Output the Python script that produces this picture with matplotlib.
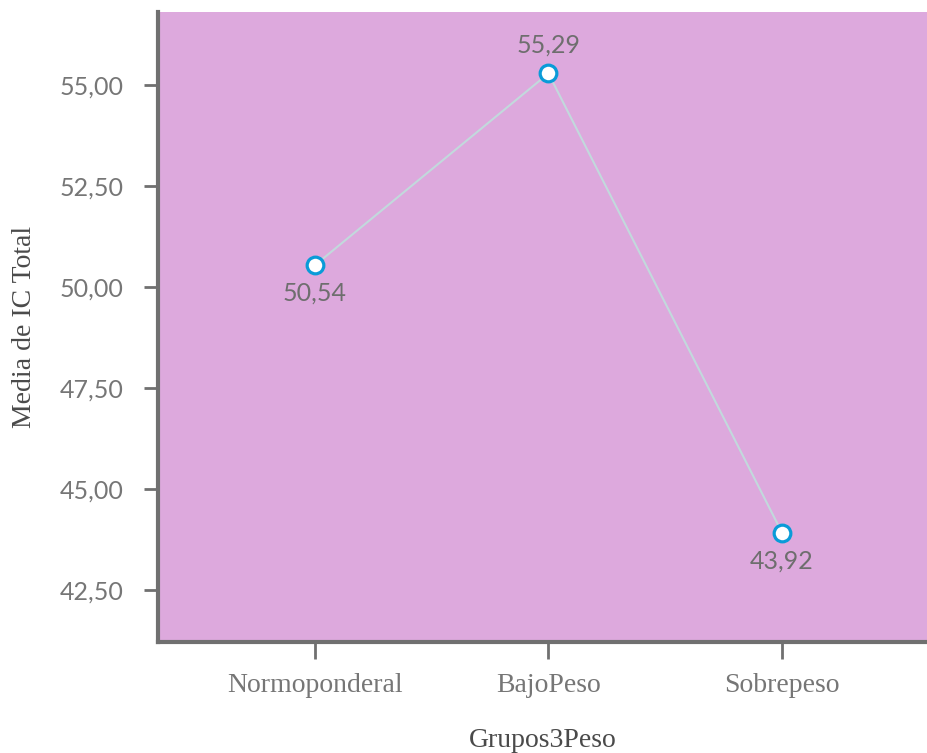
import matplotlib
matplotlib.use("Agg")
import matplotlib.pyplot as plt

grupos = ['Normoponderal', 'BajoPeso', 'Sobrepeso']
medias = [50.54, 55.29, 43.92]
etiquetas = ['50,54', '55,29', '43,92']
yticks = [42.5, 45.0, 47.5, 50.0, 52.5, 55.0]
ytick_labels = ['42,50', '45,00', '47,50', '50,00', '52,50', '55,00']

gris = '#707070'
texto = '#767676'

fig = plt.figure(figsize=(9.27, 7.53), dpi=100)
ax = fig.add_axes([0.1704, 0.1474, 0.8296, 0.8366])
ax.set_facecolor('#dda9dd')

x = list(range(len(grupos)))
ax.plot(x, medias, color='#c2d9dc', linewidth=1.5, zorder=2)
ax.plot(x, medias, linestyle='none', marker='o', markersize=12,
        markerfacecolor='white', markeredgecolor='#0a9bd8', markeredgewidth=2.3, zorder=3)

# etiquetas de valor: arriba para el maximo, abajo para el resto
for xi, yi, lab in zip(x, medias, etiquetas):
    if yi == max(medias):
        ax.annotate(lab, (xi, yi), xytext=(0, 12), textcoords='offset points',
                    ha='center', va='bottom', fontsize=18, color='#6e6e6e',
                    family='Lato')
    else:
        ax.annotate(lab, (xi, yi), xytext=(0, -12), textcoords='offset points',
                    ha='center', va='top', fontsize=18, color='#6e6e6e',
                    family='Lato')

ax.set_xlim(-0.672, 2.621)
ax.set_ylim(41.21, 56.81)
ax.set_xticks(x)
ax.set_xticklabels(grupos, family='Liberation Serif', fontsize=20, color=texto)
ax.set_yticks(yticks)
ax.set_yticklabels(ytick_labels, family='Lato', fontsize=18, color=texto)

ax.tick_params(axis='y', length=10, width=2, color=gris, pad=15)
ax.tick_params(axis='x', length=12, width=2, color=gris, pad=10)

for s in ['top', 'right']:
    ax.spines[s].set_visible(False)
for s in ['left', 'bottom']:
    ax.spines[s].set_color(gris)
    ax.spines[s].set_linewidth(3)

ax.set_xlabel('Grupos3Peso', family='Liberation Serif', fontsize=20, color='#4a4a4a', labelpad=22)
ax.set_ylabel('Media de IC Total', family='Liberation Serif', fontsize=20, color='#4a4a4a', labelpad=16)

fig.savefig('out.png', dpi=100)
